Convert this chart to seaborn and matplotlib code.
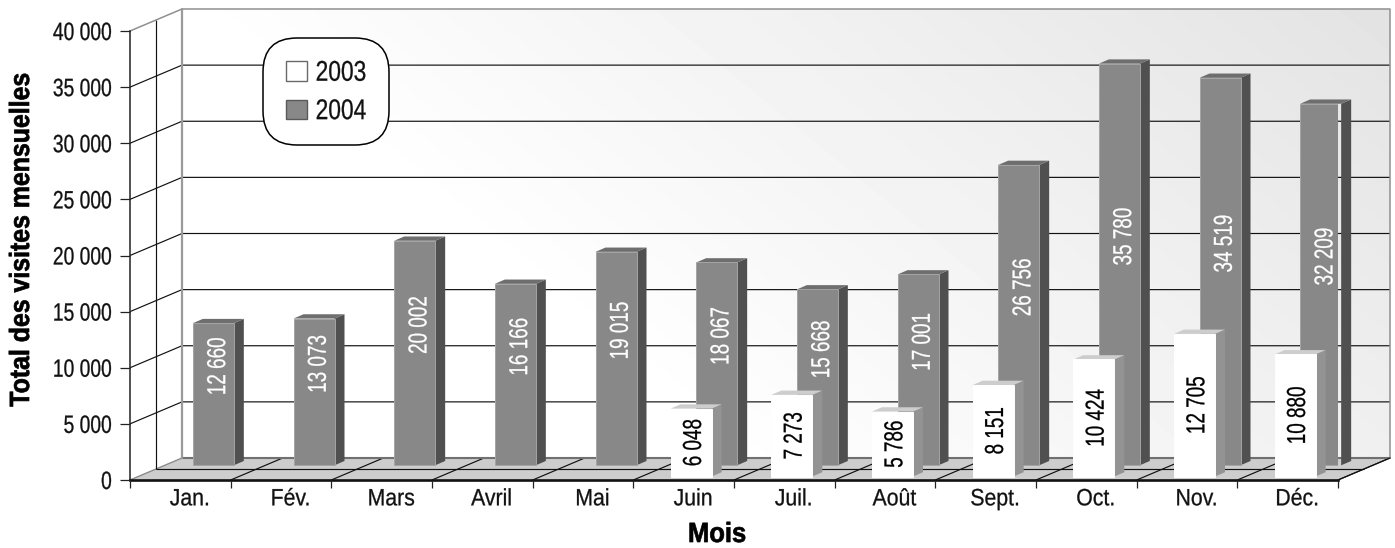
import numpy as np
import pandas as pd
import matplotlib
matplotlib.use("Agg")
import matplotlib.pyplot as plt
from matplotlib.patches import Patch
from matplotlib.patheffects import AbstractPathEffect
from matplotlib.transforms import Affine2D
import seaborn as sns

months = ["Jan.", "Fév.", "Mars", "Avril", "Mai", "Juin", "Juil.", "Août", "Sept.", "Oct.", "Nov.", "Déc."]
visits_2003 = [np.nan, np.nan, np.nan, np.nan, np.nan, 6048, 7273, 5786, 8151, 10424, 12705, 10880]
visits_2004 = [12660, 13073, 20002, 16166, 19015, 18067, 15668, 17001, 26756, 35780, 34519, 32209]
y_values = [0, 5000, 10000, 15000, 20000, 25000, 30000, 35000, 40000]
y_labels = ["0", "5 000", "10 000", "15 000", "20 000", "25 000", "30 000", "35 000", "40 000"]


def spaced(v):
    return f"{int(v):,}".replace(",", " ")


class Condensed(AbstractPathEffect):
    """Squeeze a text run along and across its reading direction, with a slight extra weight."""

    def __init__(self, along=0.82, across=1.0, anchor="center", vertical=False, weight=0.2):
        super().__init__()
        self.along, self.across, self.anchor, self.vertical = along, across, anchor, vertical
        self.weight = weight

    def draw_path(self, renderer, gc, tpath, affine, rgbFace=None):
        box = tpath.transformed(affine).get_extents()
        cx, cy = 0.5 * (box.x0 + box.x1), 0.5 * (box.y0 + box.y1)
        if self.anchor == "right":
            cx = box.x1
        elif self.anchor == "left":
            cx = box.x0
        sx, sy = (self.across, self.along) if self.vertical else (self.along, self.across)
        squeeze = Affine2D().translate(-cx, -cy).scale(sx, sy).translate(cx, cy)
        heavy = renderer.new_gc()
        heavy.copy_properties(gc)
        heavy.set_linewidth(self.weight)
        heavy.set_foreground(rgbFace)
        renderer.draw_path(heavy, tpath, affine + squeeze, rgbFace)
        heavy.restore()


sns.set_style("white")
plt.rcParams["font.family"] = ["Liberation Sans", "DejaVu Sans"]

W, H = 1395, 548
fig = plt.figure(figsize=(W / 100, H / 100), dpi=100, facecolor="white")
ax = fig.add_axes([130 / W, 1 - 480 / H, (1338 - 130) / W, (480 - 31) / H])

df = pd.DataFrame({"mois": months, "v2003": visits_2003, "v2004": visits_2004})

# Pixel-sized steps of the pseudo-3D projection, expressed in data units
PX = 12 / (1338 - 130)
PY = 40000 / (480 - 31)
DEPTH_X, DEPTH_Y = 52 * PX, 22 * PY
X0, X1 = -0.5, 11.5
Y_TOP = 40000

# Back wall with its soft diagonal shading
nx, ny = 240, 120
u, v = np.meshgrid(np.linspace(0, 1, nx), np.linspace(1, 0, ny))
shade = 255 - 28 * np.clip(u + 0.45 * v - 0.45, 0, 1)
ax.imshow(shade, cmap="gray", vmin=0, vmax=255, aspect="auto", zorder=0, clip_on=False,
          extent=[X0 + DEPTH_X, X1 + DEPTH_X, DEPTH_Y, Y_TOP + DEPTH_Y], interpolation="bilinear")

# Floor
ax.fill([X0, X1, X1 + DEPTH_X, X0 + DEPTH_X], [0, 0, DEPTH_Y, DEPTH_Y],
        color="#cdcdcd", lw=0, zorder=1, clip_on=False)
line_kw = dict(color="#111111", lw=0.85, zorder=1.5, clip_on=False, solid_capstyle="butt")
for i in range(1, 13):
    ax.plot([X0 + i, X0 + i + DEPTH_X], [0, DEPTH_Y], **line_kw)
ax.plot([X0, X0 + DEPTH_X], [0, DEPTH_Y], color="#8c8c8c", lw=1, zorder=1.5, clip_on=False)
ax.plot([X0 + DEPTH_X / 2, X1 + DEPTH_X / 2], [DEPTH_Y / 2, DEPTH_Y / 2], **line_kw)
ax.plot([X0 + DEPTH_X, X1 + DEPTH_X], [DEPTH_Y, DEPTH_Y], color="#707070", lw=1.5, zorder=1.5, clip_on=False)

# Gridlines on the side and back walls
for val in y_values[1:-1]:
    ax.plot([X0, X0 + DEPTH_X, X1 + DEPTH_X], [val, val + DEPTH_Y, val + DEPTH_Y], **line_kw)
ax.plot([X0 + DEPTH_X / 2] * 2, [DEPTH_Y / 2, Y_TOP + DEPTH_Y / 2], **line_kw)

# Wall outline
ax.plot([X0, X0 + DEPTH_X, X1 + DEPTH_X, X1 + DEPTH_X],
        [Y_TOP, Y_TOP + DEPTH_Y, Y_TOP + DEPTH_Y, DEPTH_Y],
        color="#909090", lw=1.1, zorder=1.6, clip_on=False)
ax.plot([X1 + DEPTH_X, X1], [DEPTH_Y, 0], color="#111111", lw=0.85, zorder=1.6, clip_on=False)
ax.plot([X0 + DEPTH_X] * 2, [DEPTH_Y, Y_TOP + DEPTH_Y], color="#9a9a9a", lw=1.6, zorder=1.6, clip_on=False)

BAR_W = 41 * PX
BAR_DX, BAR_DY = 10 * PX, 4.3 * PY


def extrude(column, color, shift_x, shift_y, side, top, edge, zorder, text_color, text_lift, text_nudge):
    before = len(ax.patches)
    sns.barplot(data=df, x="mois", y=column, order=months, color=color, saturation=1,
                width=BAR_W, errorbar=None, ax=ax, zorder=zorder)
    bars = ax.patches[before:]
    for bar, value in zip(bars, df[column].dropna()):
        bar.set_x(bar.get_x() + shift_x)
        bar.set_y(shift_y)
        bar.set_edgecolor(edge)
        bar.set_linewidth(0.7)
        x0 = bar.get_x()
        x1 = x0 + bar.get_width()
        y0 = shift_y
        y1 = y0 + bar.get_height()
        ax.fill([x1, x1 + BAR_DX, x1 + BAR_DX, x1], [y0, y0 + BAR_DY, y1 + BAR_DY, y1],
                color=side, lw=0, zorder=zorder - 0.1, clip_on=False)
        ax.fill([x0, x1, x1 + BAR_DX, x0 + BAR_DX], [y1, y1, y1 + BAR_DY, y1 + BAR_DY],
                color=top, lw=0, zorder=zorder - 0.1, clip_on=False)
        label = ax.text((x0 + x1) / 2 + text_nudge * PX, y0 + value / 2 + text_lift * PY, spaced(value),
                        rotation=90, ha="center", va="center", color=text_color,
                        fontsize=17, zorder=zorder + 0.2)
        label.set_path_effects([Condensed(along=0.8, across=1.1, vertical=True)])


extrude("v2004", "#888888", 33 * PX, 14.7 * PY, "#505050", "#6e6e6e", "#a4a4a4", 3, "white", 28, 5)
extrude("v2003", "#ffffff", 7.5 * PX, 3.5 * PY, "#939393", "#cdcdcd", "#ffffff", 5, "black", 0, 3)

# Axes, ticks and labels
ax.set_xlim(X0, X1)
ax.set_ylim(0, Y_TOP)
for name in ("top", "right"):
    ax.spines[name].set_visible(False)
ax.spines["left"].set_color("#222222")
ax.spines["left"].set_linewidth(1.1)
ax.spines["bottom"].set_color("#111111")
ax.spines["bottom"].set_linewidth(1.9)
ax.set_yticks(y_values, y_labels)
ax.set_xticks(np.arange(13) - 0.5, [""] * 13)
ax.set_xticks(np.arange(12) + 9.5 * PX, months, minor=True)
ax.tick_params(axis="y", left=True, length=7.5, width=0.9, color="#222222", pad=5.5, labelsize=17, labelcolor="#111111")
ax.tick_params(axis="x", which="major", bottom=True, length=5.5, width=0.9, color="#222222")
ax.tick_params(axis="x", which="minor", bottom=False, length=0, pad=6, labelsize=17, labelcolor="#111111")
for tick_text in ax.get_yticklabels():
    tick_text.set_path_effects([Condensed(along=0.815, across=1.06, anchor="right")])
for tick_text in ax.get_xticklabels(minor=True):
    tick_text.set_path_effects([Condensed(along=0.9)])
ax.set_axisbelow(False)
ax.set_xlabel("")
ax.set_ylabel("")
xtitle = fig.text(717 / W, 1 - 535 / H, "Mois", fontsize=20, fontweight="bold", ha="center", va="center", color="black")
xtitle.set_path_effects([Condensed(along=0.92, weight=0.5)])
ytitle = fig.text(22 / W, 1 - 240 / H, "Total des visites mensuelles", fontsize=20, fontweight="bold",
                  rotation=90, ha="center", va="center", color="black")
ytitle.set_path_effects([Condensed(along=0.895, vertical=True, weight=0.5)])

# Legend
legend = ax.legend(
    handles=[Patch(facecolor="#ffffff", edgecolor="#6a6a6a", linewidth=1, label="2003"),
             Patch(facecolor="#888888", edgecolor="#5a5a5a", linewidth=1, label="2004")],
    loc="upper left", bbox_to_anchor=(263 / W, 1 - 38 / H), bbox_transform=fig.transFigure,
    borderaxespad=0, borderpad=1.0, fontsize=16.4, handlelength=0.92, handleheight=0.92,
    handletextpad=0.39, labelspacing=0.675, frameon=True, fancybox=True, framealpha=1,
    edgecolor="black", facecolor="white", labelcolor="#111111")
legend.get_frame().set_boxstyle("round", pad=0, rounding_size=1.5)
legend.get_frame().set_linewidth(1.1)
legend.set_zorder(10)
for entry in legend.get_texts():
    entry.set_path_effects([Condensed(along=1.0, across=1.25)])

fig.savefig("out.png", dpi=100, facecolor="white")
